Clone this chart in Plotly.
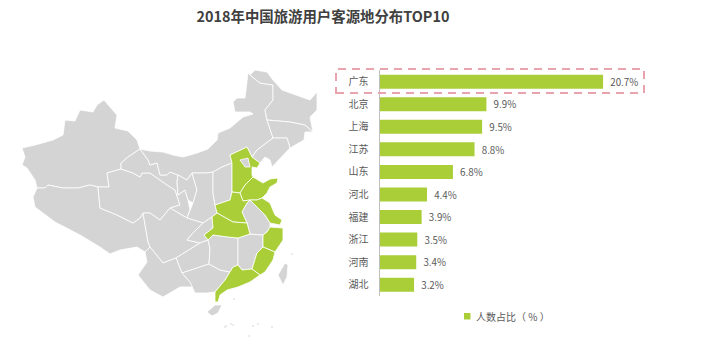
import plotly.graph_objects as go

W, H = 701, 353
TITLE = "2018年中国旅游用户客源地分布TOP10"
SERIES_NAME = "人数占比（ % ）"
categories = ["广东", "北京", "上海", "江苏", "山东", "河北", "福建", "浙江", "河南", "湖北"]
values = [20.7, 9.9, 9.5, 8.8, 6.8, 4.4, 3.9, 3.5, 3.4, 3.2]

GREEN = "#A9CE38"
GREY = "#D4D4D4"

grey_regions = {
    "新疆": [(22,148),(35,145),(53,140),(63,135),(65,120),(75,121),(80,110),(93,112),(97,105),(104,100),(110,107),(117,115),(115,128),(128,131),(137,140),(140,149),(128,157),(121,163),(121,169),(107,173),(109,187),(98,187),(90,185),(78,188),(63,188),(48,185),(45,188),(37,188),(35,180),(27,168),(22,165),(25,157)],
    "西藏": [(37,188),(45,188),(48,185),(63,188),(78,188),(90,185),(98,187),(100,208),(117,215),(133,223),(140,218),(143,213),(148,242),(150,247),(145,252),(137,247),(120,250),(110,254),(100,247),(80,235),(55,222),(35,207),(33,197)],
    "青海": [(107,173),(121,169),(133,173),(140,177),(142,173),(150,173),(167,185),(175,190),(180,205),(170,208),(160,220),(150,213),(143,213),(140,218),(133,223),(117,215),(100,208),(98,187),(109,187)],
    "甘肃": [(128,157),(140,149),(148,160),(150,165),(157,163),(160,175),(167,175),(170,172),(178,175),(177,182),(178,195),(185,190),(188,200),(190,210),(187,218),(170,208),(180,205),(175,190),(167,185),(150,173),(142,173),(140,177),(133,173),(121,169),(121,163)],
    "内蒙古": [(140,149),(150,151),(163,152),(173,155),(183,157),(197,153),(208,149),(217,140),(218,133),(230,128),(243,117),(253,114),(250,112),(235,112),(233,102),(237,98),(245,98),(248,73),(250,75),(260,83),(273,85),(273,100),(265,110),(267,120),(273,138),(257,150),(252,157),(247,147),(230,155),(232,163),(222,167),(213,172),(207,173),(192,173),(187,180),(178,175),(170,172),(167,175),(160,175),(157,163),(150,165),(148,160)],
    "黑龙江": [(250,75),(255,70),(267,72),(273,80),(282,90),(297,95),(310,100),(317,92),(317,110),(310,117),(313,132),(305,125),(290,122),(267,120),(265,110),(273,100),(273,85),(260,83)],
    "吉林": [(267,120),(290,122),(305,125),(313,132),(305,132),(304,140),(290,148),(287,138),(273,138)],
    "辽宁": [(273,138),(287,138),(290,148),(280,158),(272,167),(270,160),(265,157),(260,163),(252,157),(257,150)],
    "宁夏": [(187,180),(192,173),(197,190),(193,203),(188,200),(185,190),(178,195),(177,182),(178,175)],
    "陕西": [(192,173),(207,173),(213,172),(213,193),(215,205),(217,213),(212,217),(203,223),(187,218),(190,210),(193,203),(197,190)],
    "山西": [(213,172),(222,167),(232,163),(232,192),(230,200),(215,205),(213,193)],
    "四川": [(143,213),(150,213),(160,220),(170,208),(187,218),(203,223),(193,233),(187,240),(200,243),(176,258),(163,263),(150,247),(148,242)],
    "重庆": [(203,223),(212,217),(213,228),(204,235),(208,240),(200,243),(187,240),(193,233)],
    "贵州": [(176,258),(200,243),(208,240),(210,248),(209,264),(182,273)],
    "云南": [(150,247),(163,263),(176,258),(182,273),(190,282),(195,287),(180,287),(163,297),(150,290),(138,275),(147,262),(145,252)],
    "广西": [(182,273),(209,264),(220,270),(230,272),(225,280),(215,292),(207,293),(195,293),(190,282)],
    "湖南": [(208,240),(213,235),(228,237),(238,238),(238,265),(233,267),(230,272),(220,270),(209,264),(210,248)],
    "江西": [(238,238),(250,234),(263,235),(263,247),(257,253),(252,269),(242,270),(238,265),(238,252)],
    "安徽": [(242,212),(247,203),(250,200),(258,208),(265,215),(270,223),(270,227),(267,232),(263,235),(250,234),(247,223)],
    "海南": [(207,312),(215,305),(222,305),(218,313),(212,316)],
    "台湾": [(285,263),(288,265),(287,277),(283,285),(278,275)],
}
green_regions = {
    "河北": [(230,155),(247,147),(252,157),(260,163),(257,168),(252,167),(252,175),(253,177),(245,185),(240,193),(232,192),(232,163)],
    "山东": [(253,177),(263,183),(270,179),(278,178),(277,183),(270,187),(267,193),(262,198),(257,200),(250,200),(243,201),(240,193),(245,185)],
    "河南": [(215,205),(230,200),(232,192),(240,193),(243,201),(250,200),(247,203),(242,212),(247,223),(233,222),(217,213)],
    "湖北": [(212,217),(217,213),(233,222),(247,223),(250,234),(238,238),(228,237),(213,235),(208,240),(204,235),(213,228)],
    "江苏": [(250,200),(257,200),(262,198),(270,203),(275,215),(282,220),(280,225),(270,223),(265,215),(258,208)],
    "浙江": [(270,227),(283,228),(283,240),(277,250),(275,252),(263,247),(263,235),(267,232)],
    "福建": [(263,247),(275,252),(273,260),(265,272),(260,275),(252,269),(257,253)],
    "广东": [(233,267),(238,265),(242,270),(252,269),(260,275),(250,282),(238,287),(227,290),(220,295),(218,302),(215,302),(215,292),(225,280),(230,272)],
}
capital_region = {"京津": [(240,160),(248,158),(250,167),(245,167)]}
sea_islands_x = [226, 233, 234, 225, 231, 253, 258, 272, 249, 292]
sea_islands_y = [326, 325, 299, 327, 324, 326, 324, 327, 336, 254]

fig = go.Figure()

def add_region(name, pts, color):
    xs = [p[0] for p in pts] + [pts[0][0]]
    ys = [p[1] for p in pts] + [pts[0][1]]
    fig.add_trace(go.Scatter(x=xs, y=ys, xaxis="x2", yaxis="y2", mode="lines", fill="toself",
                             fillcolor=color, line=dict(color="#FFFFFF", width=0.8),
                             name=name, showlegend=False, hoverinfo="skip"))

for n, p in grey_regions.items():
    add_region(n, p, GREY)
for n, p in green_regions.items():
    add_region(n, p, GREEN)
for n, p in capital_region.items():
    add_region(n, p, GREY)

fig.add_trace(go.Scatter(x=sea_islands_x, y=sea_islands_y, xaxis="x2", yaxis="y2", mode="markers",
                         marker=dict(color="#E4E4E4", size=2), showlegend=False, hoverinfo="skip"))

fig.add_trace(go.Bar(x=values, y=categories, orientation="h", marker=dict(color=GREEN, line=dict(width=0)),
                     width=0.62, text=[f"\u00a0\u2009{v}%" for v in values], textposition="outside", cliponaxis=False,
                     textfont=dict(size=10.5, color="#595959"), name=SERIES_NAME, showlegend=False))

FONT = "Noto Sans CJK SC, Noto Sans, sans-serif"
def px(x): return x / W
def py(y): return 1 - y / H

fig.update_layout(
    width=W, height=H, autosize=False, margin=dict(l=0, r=0, t=0, b=0),
    paper_bgcolor="#FFFFFF", plot_bgcolor="rgba(0,0,0,0)",
    font=dict(family=FONT, color="#595959", size=10.5),
    title=dict(text=f"<b>{TITLE}</b>", x=px(323), xanchor="center", y=py(17), yanchor="middle",
               font=dict(size=14.4, color="#404040", family=FONT)),
    xaxis=dict(domain=[px(379.5), 1], range=[0, (W-379.5)/10.8], visible=False, fixedrange=True),
    yaxis=dict(domain=[py(296), py(70.4)], type="category", categoryorder="array", categoryarray=categories,
               autorange="reversed", showline=True, linecolor="#BFBFBF", linewidth=1, ticks="",
               showgrid=False, ticklabelstandoff=8, tickfont=dict(size=10, color="#595959"), fixedrange=True),
    xaxis2=dict(domain=[0, 1], range=[0, W], visible=False, anchor="y2", fixedrange=True),
    yaxis2=dict(domain=[0, 1], range=[H, 0], visible=False, anchor="x2", fixedrange=True),
    showlegend=False,
    shapes=[dict(type="rect", xref="paper", yref="paper", x0=px(336), x1=px(644), y0=py(93), y1=py(69),
                 line=dict(color="#E8A3AC", width=2, dash="8px,6px"), fillcolor="rgba(0,0,0,0)"),
            dict(type="rect", xref="paper", yref="paper", x0=px(464), x1=px(470.5), y0=py(319.5), y1=py(313),
                 line=dict(width=0), fillcolor=GREEN)],
    annotations=[dict(text=SERIES_NAME, xref="paper", yref="paper", x=px(474), y=py(316), xanchor="left",
                      yanchor="middle", showarrow=False, font=dict(size=10, color="#595959"))],
)
fig.write_html("out.html", config={"displayModeBar": False},
               post_script="document.body.style.margin='0';document.documentElement.style.overflow='hidden';")
